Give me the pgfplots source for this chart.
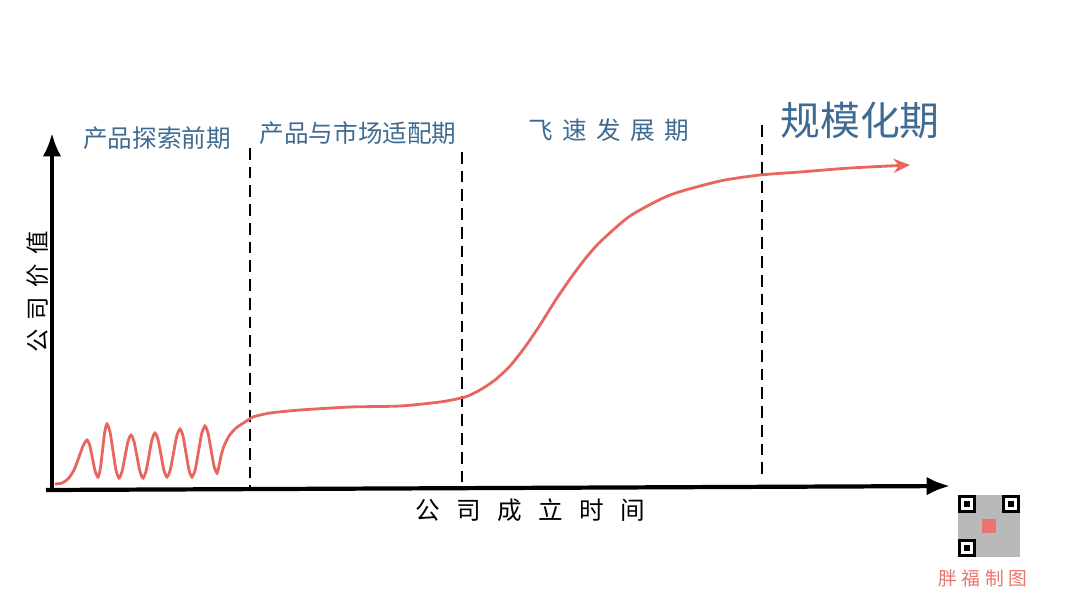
\documentclass[border=0pt]{standalone}
\usepackage{pgfplots}
\pgfplotsset{compat=1.18}
\usetikzlibrary{arrows.meta}
\usepackage{fontspec}
\newfontfamily\cjk{Noto Sans CJK SC}
\definecolor{curvered}{HTML}{E8665E}
\definecolor{inkblue}{HTML}{3F6B92}
\definecolor{markred}{HTML}{E8756E}
\begin{document}
\begin{tikzpicture}
\begin{axis}[
    width=16.2cm, height=9.12cm, scale only axis,
    xmin=0, xmax=1080, ymin=0, ymax=608, y dir=reverse,
    axis lines=none, clip=false, no marks,
  ]
  \path (rel axis cs:0,0) rectangle (rel axis cs:1,1);

  % axes drawn by hand
  \addplot[black, line width=1.8pt, -{Latex[length=10pt,width=8pt]}]
    coordinates {(52,491) (52,133)};
  \addplot[black, line width=1.8pt, -{Latex[length=10pt,width=8pt]}]
    coordinates {(46,490) (950,486)};

  % stage boundaries
  \addplot[black, line width=0.6pt, dash pattern=on 5pt off 3pt]
    coordinates {(250,148) (250,488)};
  \addplot[black, line width=0.6pt, dash pattern=on 5pt off 3pt]
    coordinates {(462,152) (462,488)};
  \addplot[black, line width=0.6pt, dash pattern=on 5pt off 3pt]
    coordinates {(762,125) (762,480)};

  % company value curve
  \addplot[curvered, line width=1.2pt, smooth, tension=0.4,
           -{Stealth[length=7pt,width=6pt,open]}] coordinates {
    (55,484) (62,483) (68,479) (74,470) (79,457) (83,446) (87,440)
    (89.75,445.4) (92.5,458.5) (95.25,471.6) (98,477)
    (100.25,469.3) (102.5,450.5) (104.75,431.7) (107,424)
    (110,431.9) (113,451) (116,470.1) (119,478)
    (122,471.7) (125,456.5) (128,441.3) (131,435)
    (134,441.3) (137,456.5) (140,471.7) (143,478)
    (146,471.4) (149,455.5) (152,439.6) (155,433)
    (158,439.4) (161,455) (164,470.6) (167,477)
    (170.25,470) (173.5,453) (176.75,436) (180,429)
    (183,436) (186,453) (189,470) (192,477)
    (195.25,469.6) (198.5,451.5) (201.75,433.4) (205,426)
    (208,432.9) (211,449.5) (214,466.1) (217,473)
    (219,466) (221,456) (224,446) (229,436) (236,428) (245,422)
    (253,417) (270,413) (300,410) (350,407) (400,406) (440,402)
    (465,397) (480,390) (495,380) (510,366) (525,347) (540,325)
    (555,301) (570,279) (585,259) (600,242) (630,216)
    (670,195) (720,181) (760,175) (800,172) (850,168) (910,165)
  };

  % stage names
  \node[text=inkblue, font=\cjk\fontsize{10.5}{12}\selectfont] at (axis cs:157,138) {产品探索前期};
  \node[text=inkblue, font=\cjk\fontsize{10.5}{12}\selectfont] at (axis cs:358,133) {产品与市场适配期};
  \node[text=inkblue, font=\cjk\fontsize{10.5}{12}\selectfont] at (axis cs:609,130)
    {飞\hspace{4pt}速\hspace{4pt}发\hspace{4pt}展\hspace{4pt}期};
  \node[text=inkblue, font=\cjk\fontsize{17}{20}\selectfont] at (axis cs:860,120) {规模化期};

  % axis titles
  \node[rotate=90, font=\cjk\fontsize{10}{12}\selectfont] at (axis cs:38,292)
    {公\hspace{4pt}司\hspace{4pt}价\hspace{4pt}值};
  \node[font=\cjk\fontsize{10.5}{12}\selectfont] at (axis cs:530,510)
    {公\hspace{7pt}司\hspace{7pt}成\hspace{7pt}立\hspace{7pt}时\hspace{7pt}间};

  % watermark
  \fill[gray!55] (axis cs:958,495) rectangle (axis cs:1020,557);
  \fill[black] (axis cs:958,495) rectangle (axis cs:976,513);
  \fill[white] (axis cs:961,498) rectangle (axis cs:973,510);
  \fill[black] (axis cs:964,501) rectangle (axis cs:970,507);
  \fill[black] (axis cs:1002,495) rectangle (axis cs:1020,513);
  \fill[white] (axis cs:1005,498) rectangle (axis cs:1017,510);
  \fill[black] (axis cs:1008,501) rectangle (axis cs:1014,507);
  \fill[black] (axis cs:958,539) rectangle (axis cs:976,557);
  \fill[white] (axis cs:961,542) rectangle (axis cs:973,554);
  \fill[black] (axis cs:964,545) rectangle (axis cs:970,551);
  \fill[markred] (axis cs:982,519) rectangle (axis cs:996,533);
  \node[text=markred, font=\cjk\fontsize{8}{10}\selectfont] at (axis cs:983,578)
    {胖\hspace{2pt}福\hspace{2pt}制\hspace{2pt}图};
\end{axis}
\end{tikzpicture}
\end{document}
